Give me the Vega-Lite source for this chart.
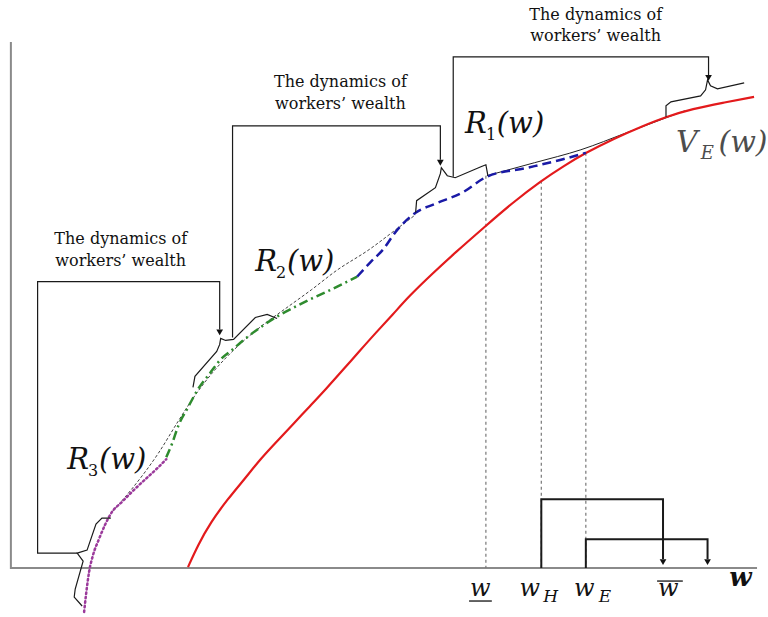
{
  "$schema": "https://vega.github.io/schema/vega-lite/v6.json",
  "width": 768,
  "height": 617,
  "padding": 0,
  "autosize": {"type": "fit", "contains": "padding"},
  "background": "white",
  "config": {"view": {"stroke": null}, "text": {"font": "DejaVu Serif"}},
  "datasets": {
    "axes": [{"o": 1, "x": 11, "y": 42}, {"o": 2, "x": 11, "y": 569}, {"o": 3, "x": 765, "y": 569}],
    "red": [
      {"x": 190, "y": 568}, {"x": 200, "y": 546}, {"x": 213, "y": 523}, {"x": 230, "y": 500}, {"x": 247, "y": 480},
      {"x": 263, "y": 460}, {"x": 280, "y": 442}, {"x": 297, "y": 424}, {"x": 313, "y": 407}, {"x": 330, "y": 389},
      {"x": 347, "y": 370}, {"x": 363, "y": 352}, {"x": 380, "y": 333}, {"x": 397, "y": 315}, {"x": 413, "y": 297},
      {"x": 436, "y": 275}, {"x": 460, "y": 253}, {"x": 490, "y": 227}, {"x": 518, "y": 203}, {"x": 547, "y": 181},
      {"x": 570, "y": 166}, {"x": 592, "y": 153}, {"x": 620, "y": 139}, {"x": 650, "y": 126}, {"x": 673, "y": 117},
      {"x": 700, "y": 109}, {"x": 730, "y": 103}, {"x": 762, "y": 97}
    ],
    "blue": [
      {"x": 361, "y": 277}, {"x": 374, "y": 263}, {"x": 387, "y": 250}, {"x": 400, "y": 232}, {"x": 420, "y": 213}, {"x": 440, "y": 204},
      {"x": 467, "y": 193}, {"x": 492, "y": 177}, {"x": 533, "y": 168}, {"x": 567, "y": 160}, {"x": 592, "y": 153}
    ],
    "green": [
      {"x": 168, "y": 458}, {"x": 174, "y": 444}, {"x": 180, "y": 427}, {"x": 190, "y": 408}, {"x": 200, "y": 390},
      {"x": 212, "y": 374}, {"x": 223, "y": 360}, {"x": 235, "y": 350}, {"x": 247, "y": 340}, {"x": 263, "y": 328},
      {"x": 280, "y": 317}, {"x": 297, "y": 308}, {"x": 313, "y": 300}, {"x": 337, "y": 289}, {"x": 361, "y": 277}
    ],
    "purple": [
      {"x": 85, "y": 613}, {"x": 87, "y": 595}, {"x": 90, "y": 573}, {"x": 94, "y": 556}, {"x": 100, "y": 540},
      {"x": 106, "y": 526}, {"x": 113, "y": 513}, {"x": 123, "y": 503}, {"x": 133, "y": 493}, {"x": 148, "y": 479},
      {"x": 160, "y": 468}, {"x": 168, "y": 460}
    ],
    "tanLow": [
      {"x": 113, "y": 513}, {"x": 133, "y": 490}, {"x": 160, "y": 454}, {"x": 180, "y": 422}, {"x": 195, "y": 399},
      {"x": 215, "y": 373}, {"x": 240, "y": 347}, {"x": 265, "y": 326}, {"x": 290, "y": 308}, {"x": 315, "y": 290},
      {"x": 340, "y": 271}, {"x": 373, "y": 250}, {"x": 400, "y": 230}, {"x": 420, "y": 215}
    ],
    "tanHigh": [
      {"x": 492, "y": 176}, {"x": 540, "y": 163}, {"x": 587, "y": 150}, {"x": 633, "y": 133}, {"x": 673, "y": 118}, {"x": 692, "y": 111}
    ],
    "brackets": [
      {"g": "b1", "o": 1, "x": 78, "y": 554}, {"g": "b1", "o": 2, "x": 38, "y": 554}, {"g": "b1", "o": 3, "x": 38, "y": 282},
      {"g": "b1", "o": 4, "x": 222, "y": 282}, {"g": "b1", "o": 5, "x": 222, "y": 330},
      {"g": "c1", "o": 1, "x": 83, "y": 607}, {"g": "c1", "o": 2, "x": 75, "y": 598}, {"g": "c1", "o": 3, "x": 76, "y": 590},
      {"g": "c1", "o": 4, "x": 84, "y": 562}, {"g": "c1", "o": 5, "x": 78, "y": 554}, {"g": "c1", "o": 6, "x": 88, "y": 551},
      {"g": "c1", "o": 7, "x": 97, "y": 525}, {"g": "c1", "o": 8, "x": 103, "y": 519}, {"g": "c1", "o": 9, "x": 112, "y": 519},
      {"g": "b2", "o": 1, "x": 235, "y": 338}, {"g": "b2", "o": 2, "x": 235, "y": 126}, {"g": "b2", "o": 3, "x": 445, "y": 126},
      {"g": "b2", "o": 4, "x": 445, "y": 160},
      {"g": "c2", "o": 1, "x": 195, "y": 388}, {"g": "c2", "o": 2, "x": 197, "y": 377}, {"g": "c2", "o": 3, "x": 219, "y": 352},
      {"g": "c2", "o": 4, "x": 222, "y": 345}, {"g": "c2", "o": 5, "x": 223, "y": 339}, {"g": "c2", "o": 6, "x": 228, "y": 341},
      {"g": "c2", "o": 7, "x": 236, "y": 340}, {"g": "c2", "o": 8, "x": 258, "y": 318}, {"g": "c2", "o": 9, "x": 270, "y": 315},
      {"g": "c2", "o": 10, "x": 280, "y": 319},
      {"g": "b3", "o": 1, "x": 458, "y": 177}, {"g": "b3", "o": 2, "x": 458, "y": 57}, {"g": "b3", "o": 3, "x": 716, "y": 57},
      {"g": "b3", "o": 4, "x": 716, "y": 75},
      {"g": "c3", "o": 1, "x": 420, "y": 213}, {"g": "c3", "o": 2, "x": 421, "y": 201}, {"g": "c3", "o": 3, "x": 440, "y": 188},
      {"g": "c3", "o": 4, "x": 445, "y": 174}, {"g": "c3", "o": 5, "x": 446, "y": 168}, {"g": "c3", "o": 6, "x": 452, "y": 176},
      {"g": "c3", "o": 7, "x": 460, "y": 178}, {"g": "c3", "o": 8, "x": 486, "y": 167}, {"g": "c3", "o": 9, "x": 491, "y": 165},
      {"g": "c3", "o": 10, "x": 493, "y": 176},
      {"g": "c4", "o": 1, "x": 673, "y": 117}, {"g": "c4", "o": 2, "x": 673, "y": 106}, {"g": "c4", "o": 3, "x": 678, "y": 102},
      {"g": "c4", "o": 4, "x": 708, "y": 96}, {"g": "c4", "o": 5, "x": 713, "y": 90}, {"g": "c4", "o": 6, "x": 715, "y": 80},
      {"g": "c4", "o": 7, "x": 718, "y": 86}, {"g": "c4", "o": 8, "x": 725, "y": 89}, {"g": "c4", "o": 9, "x": 752, "y": 83}
    ],
    "boxes": [
      {"g": "h", "o": 1, "x": 547, "y": 569}, {"g": "h", "o": 2, "x": 547, "y": 500}, {"g": "h", "o": 3, "x": 670, "y": 500}, {"g": "h", "o": 4, "x": 670, "y": 560},
      {"g": "e", "o": 1, "x": 592, "y": 569}, {"g": "e", "o": 2, "x": 592, "y": 540}, {"g": "e", "o": 3, "x": 715, "y": 540}, {"g": "e", "o": 4, "x": 715, "y": 560}
    ],
    "arrows": [
      {"x": 222, "y": 333}, {"x": 445, "y": 163}, {"x": 716, "y": 78}, {"x": 670, "y": 563}, {"x": 715, "y": 563}
    ],
    "vlines": [
      {"x": 491, "y": 176, "y2": 569}, {"x": 547, "y": 181, "y2": 569}, {"x": 592, "y": 153, "y2": 569}
    ],
    "notes": [
      {"t": "The dynamics of", "x": 122, "y": 239}, {"t": "workers’ wealth", "x": 122, "y": 261},
      {"t": "The dynamics of", "x": 344, "y": 82}, {"t": "workers’ wealth", "x": 344, "y": 104},
      {"t": "The dynamics of", "x": 602, "y": 15}, {"t": "workers’ wealth", "x": 602, "y": 36}
    ],
    "big": [
      {"t": "R", "x": 470, "y": 133}, {"t": "(w)", "x": 502, "y": 133},
      {"t": "R", "x": 258, "y": 271}, {"t": "(w)", "x": 290, "y": 271},
      {"t": "R", "x": 68, "y": 470}, {"t": "(w)", "x": 100, "y": 470}
    ],
    "subs": [
      {"t": "1", "x": 491, "y": 140}, {"t": "2", "x": 279, "y": 278}, {"t": "3", "x": 89, "y": 477}
    ],
    "ve": [
      {"t": "V", "x": 683, "y": 152}, {"t": "(w)", "x": 726, "y": 152}
    ],
    "vesub": [{"t": "E", "x": 708, "y": 159}],
    "wl": [
      {"t": "w", "x": 475, "y": 597}, {"t": "w", "x": 525, "y": 597}, {"t": "w", "x": 580, "y": 597}, {"t": "w", "x": 665, "y": 597}
    ],
    "wsub": [{"t": "H", "x": 549, "y": 603}, {"t": "E", "x": 605, "y": 603}],
    "wend": [{"t": "w", "x": 737, "y": 587}],
    "bars": [{"x": 474, "x2": 497, "y": 602}, {"x": 664, "x2": 690, "y": 582}]
  },
  "encoding": {
    "x": {"field": "x", "type": "quantitative", "scale": {"domain": [0, 768], "nice": false, "zero": false}, "axis": null},
    "y": {"field": "y", "type": "quantitative", "scale": {"domain": [0, 617], "reverse": true, "nice": false, "zero": false}, "axis": null}
  },
  "layer": [
    {"data": {"name": "axes"}, "mark": {"type": "line", "color": "#8a8a8a", "strokeWidth": 2}, "encoding": {"order": {"field": "o"}}},
    {"data": {"name": "vlines"}, "mark": {"type": "rule", "color": "#777777", "strokeWidth": 1.2, "strokeDash": [3, 3]}, "encoding": {"y2": {"field": "y2"}}},
    {"data": {"name": "tanLow"}, "mark": {"type": "line", "color": "#444444", "strokeWidth": 1, "strokeDash": [3, 2], "interpolate": "monotone"}, "encoding": {}},
    {"data": {"name": "tanHigh"}, "mark": {"type": "line", "color": "#222222", "strokeWidth": 1, "interpolate": "monotone"}, "encoding": {}},
    {"data": {"name": "red"}, "mark": {"type": "line", "color": "#e31a1c", "strokeWidth": 2.2, "interpolate": "basis"}, "encoding": {}},
    {"data": {"name": "green"}, "mark": {"type": "line", "color": "#2e8b2e", "strokeWidth": 2.5, "strokeDash": [9, 4, 2, 4], "interpolate": "monotone"}, "encoding": {}},
    {"data": {"name": "blue"}, "mark": {"type": "line", "color": "#1a1aa6", "strokeWidth": 2.5, "strokeDash": [9, 5], "interpolate": "monotone"}, "encoding": {}},
    {"data": {"name": "purple"}, "mark": {"type": "line", "color": "#9b3a9b", "strokeWidth": 2.5, "strokeDash": [1.5, 3], "strokeCap": "round", "interpolate": "monotone"}, "encoding": {}},
    {"data": {"name": "brackets"}, "mark": {"type": "line", "color": "#1a1a1a", "strokeWidth": 1.2}, "encoding": {"detail": {"field": "g"}, "order": {"field": "o"}}},
    {"data": {"name": "boxes"}, "mark": {"type": "line", "color": "#1a1a1a", "strokeWidth": 2}, "encoding": {"detail": {"field": "g"}, "order": {"field": "o"}}},
    {"data": {"name": "arrows"}, "mark": {"type": "point", "shape": "triangle-down", "filled": true, "color": "#111111", "size": 45, "opacity": 1}},
    {"data": {"name": "bars"}, "mark": {"type": "rule", "color": "#111111", "strokeWidth": 1.3}, "encoding": {"x2": {"field": "x2"}}},
    {"data": {"name": "notes"}, "mark": {"type": "text", "fontSize": 16, "align": "center", "baseline": "middle", "color": "#111111"}, "encoding": {"text": {"field": "t"}}},
    {"data": {"name": "big"}, "mark": {"type": "text", "fontStyle": "italic", "fontSize": 29, "align": "left", "baseline": "alphabetic", "color": "#111111"}, "encoding": {"text": {"field": "t"}}},
    {"data": {"name": "subs"}, "mark": {"type": "text", "fontSize": 16, "align": "left", "baseline": "alphabetic", "color": "#111111"}, "encoding": {"text": {"field": "t"}}},
    {"data": {"name": "ve"}, "mark": {"type": "text", "fontStyle": "italic", "fontSize": 30, "align": "left", "baseline": "alphabetic", "color": "#4d4d4d"}, "encoding": {"text": {"field": "t"}}},
    {"data": {"name": "vesub"}, "mark": {"type": "text", "fontStyle": "italic", "fontSize": 18, "align": "left", "baseline": "alphabetic", "color": "#4d4d4d"}, "encoding": {"text": {"field": "t"}}},
    {"data": {"name": "wl"}, "mark": {"type": "text", "fontStyle": "italic", "fontSize": 24, "align": "left", "baseline": "alphabetic", "color": "#111111"}, "encoding": {"text": {"field": "t"}}},
    {"data": {"name": "wsub"}, "mark": {"type": "text", "fontStyle": "italic", "fontSize": 17, "align": "left", "baseline": "alphabetic", "color": "#111111"}, "encoding": {"text": {"field": "t"}}},
    {"data": {"name": "wend"}, "mark": {"type": "text", "fontStyle": "italic", "fontWeight": "bold", "fontSize": 26, "align": "left", "baseline": "alphabetic", "color": "#111111"}, "encoding": {"text": {"field": "t"}}}
  ]
}
